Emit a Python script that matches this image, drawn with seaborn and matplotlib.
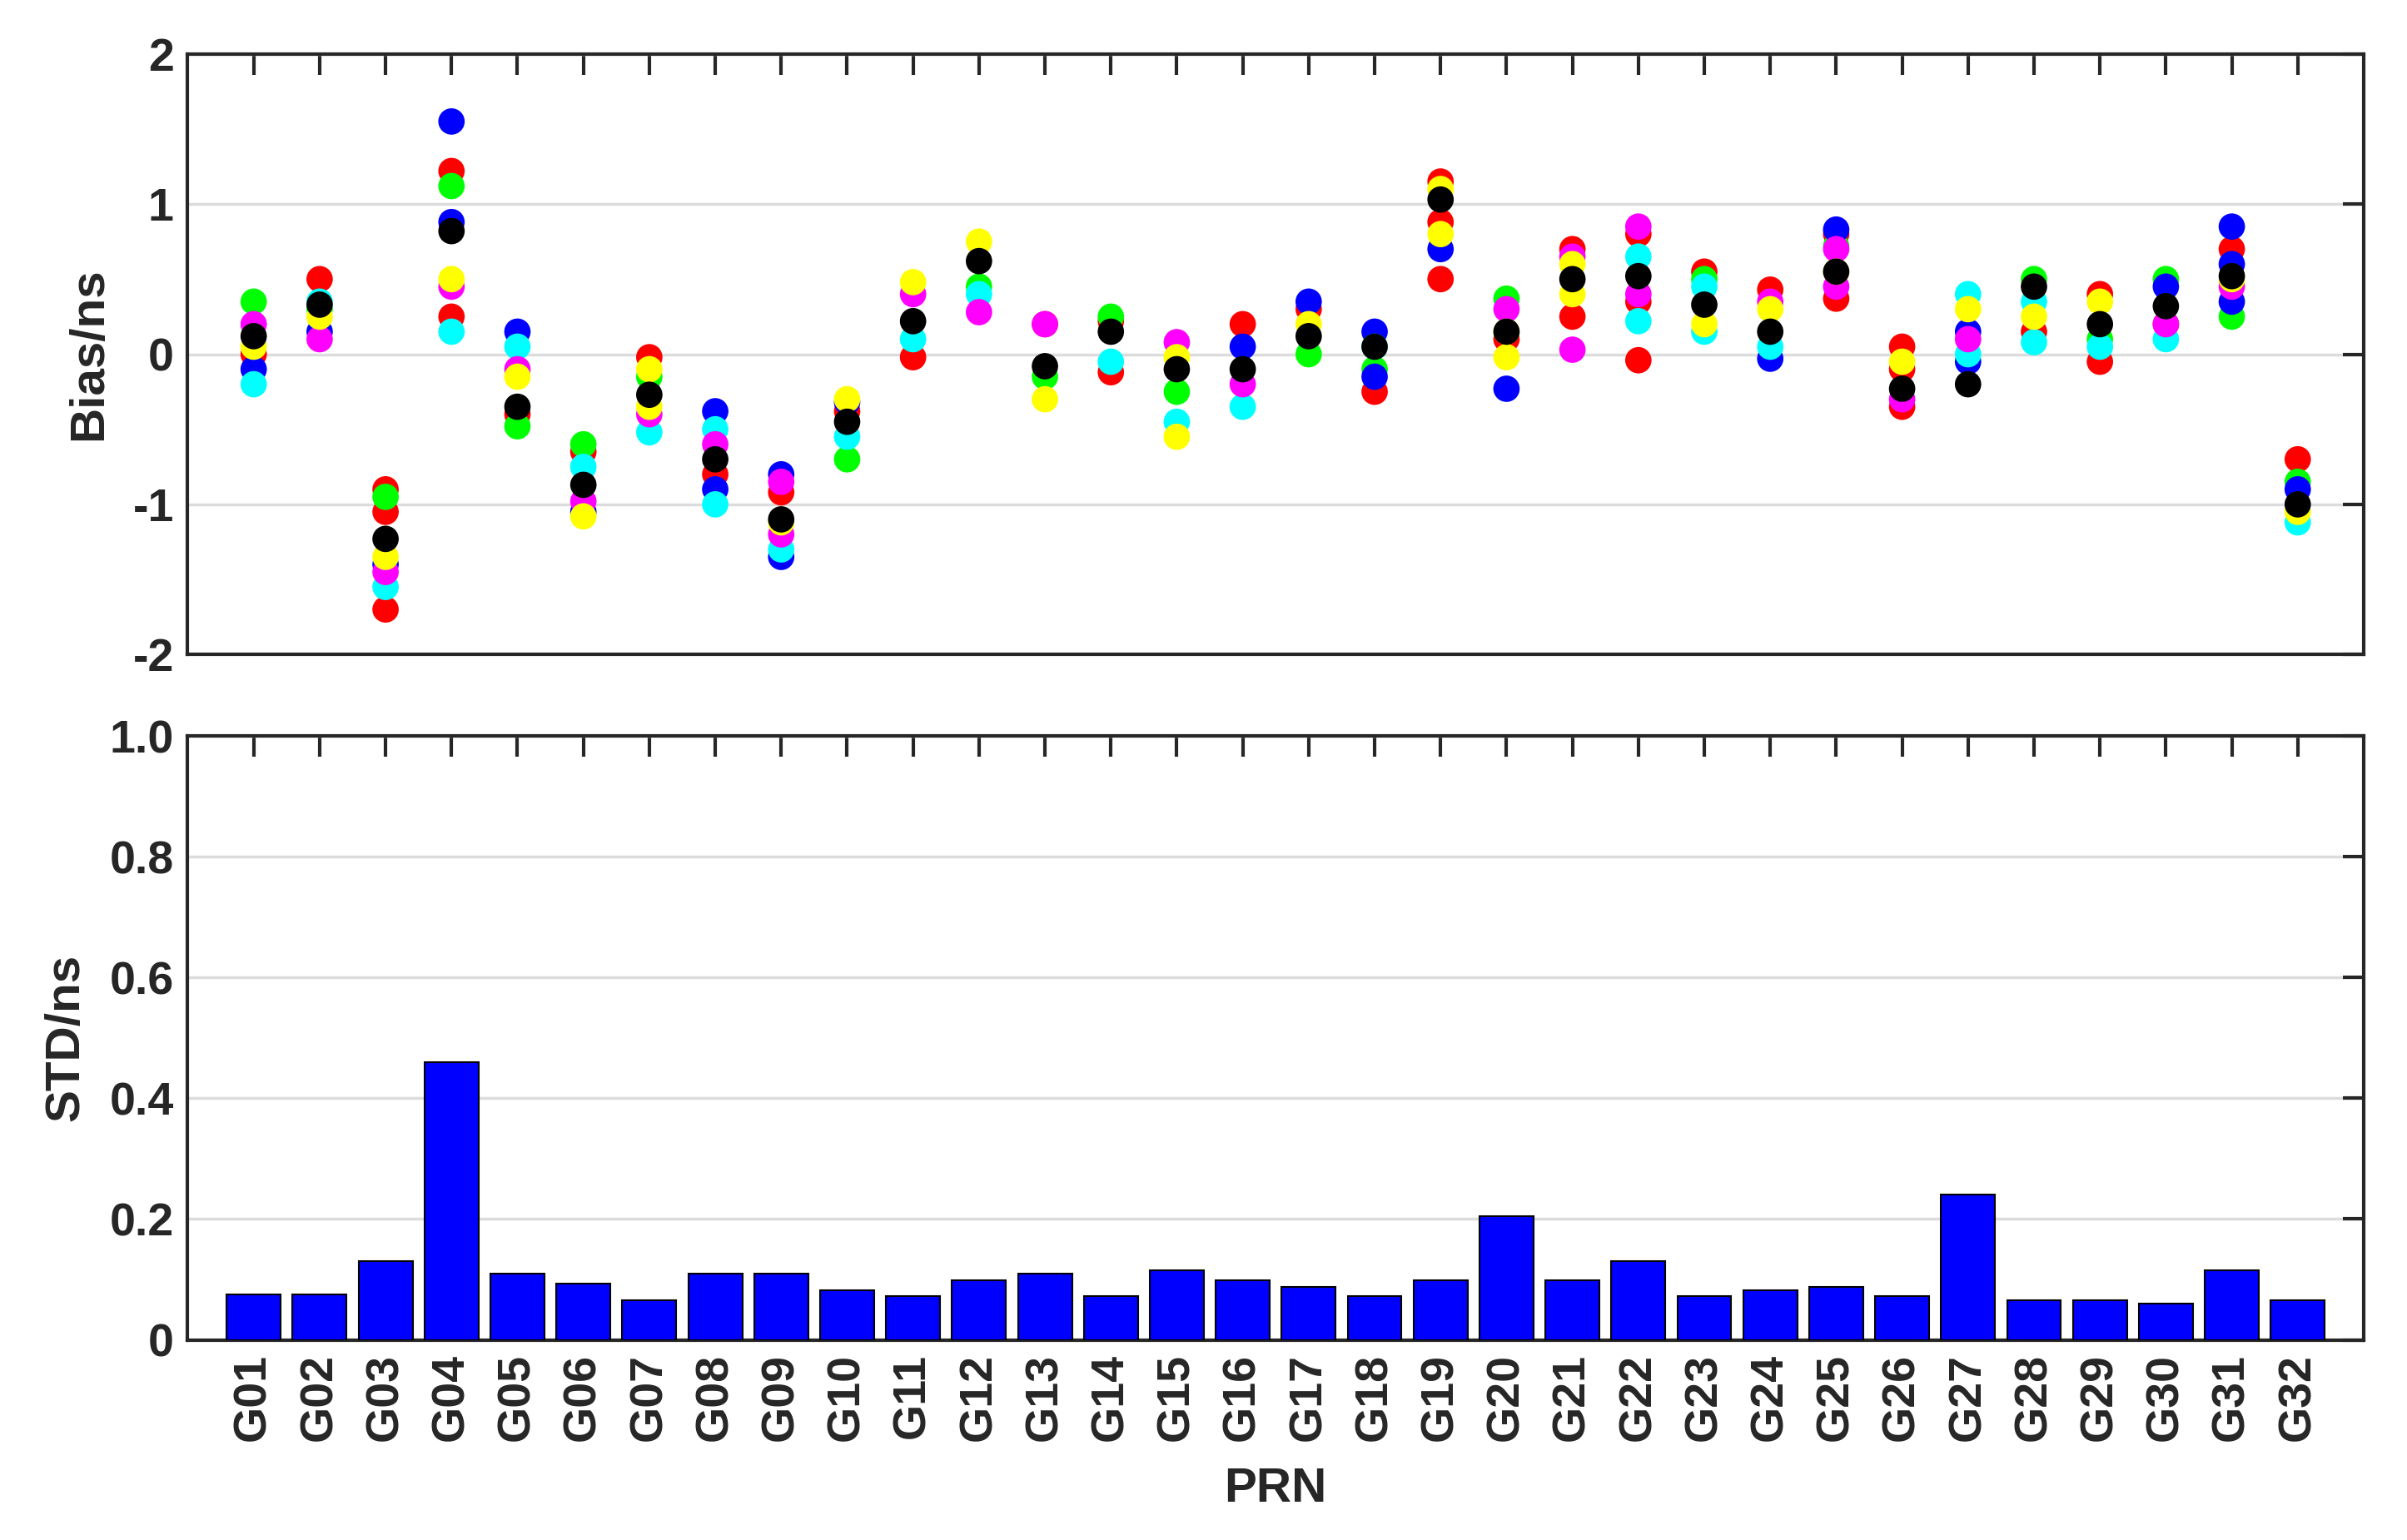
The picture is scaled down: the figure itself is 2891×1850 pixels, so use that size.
import numpy as np
import pandas as pd
import matplotlib
matplotlib.use("Agg")
import matplotlib.pyplot as plt
import seaborn as sns

prn = [f"G{i:02d}" for i in range(1, 33)]

# per-satellite bias estimates for each colour series (ns)
red = [[0.0], [0.5], [-0.9, -1.05, -1.7], [1.22, 0.25], [-0.4], [-0.65], [-0.02], [-0.8], [-0.92],
       [-0.38], [-0.02], [], [0.2], [0.22, -0.12], [], [0.2], [0.3], [-0.25], [1.15, 0.88, 0.5],
       [0.1], [0.7, 0.25], [0.8, 0.35, -0.04], [0.55], [0.43], [0.8, 0.37], [0.05, -0.1, -0.35],
       [], [0.15], [0.4, -0.05], [0.2], [0.7], [-0.7]]
green = [[0.35], [0.3], [-0.95], [1.12], [-0.48], [-0.6], [-0.15], [], [], [-0.7], [], [0.45],
         [-0.15], [0.25], [-0.25], [], [0.0], [-0.1], [], [0.37], [], [], [0.5], [], [0.72], [],
         [], [0.5], [0.1], [0.5], [0.25], [-0.85]]
blue = [[-0.1], [0.15], [-1.4], [1.55, 0.88], [0.15], [-1.05], [], [-0.38, -0.9], [-0.8, -1.35],
        [-0.32], [], [], [], [], [], [0.05], [0.35], [0.15, -0.15], [0.7], [-0.23], [], [], [],
        [-0.03], [0.83], [], [0.15, -0.05], [], [], [0.45], [0.85, 0.6, 0.35], [-0.9]]
cyan = [[-0.2], [0.35], [-1.55], [0.15], [0.05], [-0.75], [-0.52], [-0.5, -1.0], [-1.3],
        [-0.55], [0.1], [0.4], [], [-0.05], [-0.45], [-0.35], [], [0.05], [], [], [], [0.65, 0.22],
        [0.45, 0.15], [0.05], [], [], [0.4, 0.0], [0.35, 0.08], [0.05], [0.1], [], [-1.12]]
magenta = [[0.2], [0.1], [-1.45], [0.45], [-0.1], [-0.98], [-0.4], [-0.6], [-0.85, -1.2], [],
           [0.4], [0.28], [0.2], [], [0.08], [-0.2], [], [], [], [0.3], [0.65, 0.03], [0.85, 0.4],
           [], [0.35], [0.7, 0.45], [-0.3], [0.1], [], [], [0.2], [0.45], []]
yellow = [[0.05], [0.25], [-1.35], [0.5], [-0.15], [-1.08], [-0.1, -0.35], [], [-1.12],
          [-0.3], [0.48], [0.75], [-0.3], [], [-0.02, -0.55], [], [0.2], [], [1.1, 0.8],
          [0.15, -0.02], [0.6, 0.4], [], [0.2], [0.3], [0.55], [-0.05], [0.3], [0.25], [0.35], [],
          [0.5], [-1.05]]
mean_bias = [0.12, 0.33, -1.23, 0.82, -0.35, -0.87, -0.27, -0.7, -1.1, -0.45, 0.22, 0.62,
             -0.08, 0.15, -0.1, -0.1, 0.12, 0.05, 1.03, 0.15, 0.5, 0.52, 0.33, 0.15, 0.55,
             -0.23, -0.2, 0.45, 0.2, 0.32, 0.52, -1.0]

std = [0.075, 0.075, 0.13, 0.46, 0.11, 0.093, 0.065, 0.11, 0.11, 0.082, 0.072, 0.098,
       0.11, 0.072, 0.115, 0.098, 0.088, 0.072, 0.098, 0.205, 0.098, 0.13, 0.072, 0.082,
       0.088, 0.072, 0.24, 0.065, 0.065, 0.06, 0.115, 0.065]

series = {"red": red, "lime": green, "blue": blue, "cyan": cyan,
          "magenta": magenta, "yellow": yellow}
rows = []
for col, data in series.items():
    for i, vals in enumerate(data):
        for v in vals:
            rows.append((i, v, col))
df = pd.DataFrame(rows, columns=["idx", "bias", "c"])

sns.set_style("white")
plt.rcParams["font.family"] = ["Liberation Sans", "DejaVu Sans"]
plt.rcParams["font.weight"] = "bold"
plt.rcParams["axes.labelweight"] = "bold"
plt.rcParams["axes.unicode_minus"] = False

fig = plt.figure(figsize=(28.91, 18.5), dpi=100)
ax1 = fig.add_axes([0.078, 0.575, 0.904, 0.39])
ax2 = fig.add_axes([0.078, 0.130, 0.904, 0.392])

for col in series.keys():
    sub = df[df.c == col]
    sns.scatterplot(data=sub, x="idx", y="bias", color=col, s=520, marker="o",
                    edgecolor="none", ax=ax1, zorder=3)
sns.scatterplot(x=np.arange(32), y=mean_bias, color="black", s=520, edgecolor="none",
                ax=ax1, zorder=4)

sns.barplot(x=prn, y=std, color="#0000ff", edgecolor="black", linewidth=1.5,
            width=0.82, saturation=1, ax=ax2, zorder=3)

for ax in (ax1, ax2):
    ax.set_xlim(-1, 32)
    ax.set_xticks(np.arange(32))
    ax.yaxis.grid(True, color="#dcdcdc", linewidth=2.5, zorder=0)
    ax.tick_params(direction="in", length=18, width=3, top=True, right=True,
                   labelsize=40, colors="#262626", pad=12)
    for sp in ax.spines.values():
        sp.set_linewidth(3)
        sp.set_color("#262626")

ax1.set_ylim(-2, 2)
ax1.set_yticks([-2, -1, 0, 1, 2])
ax1.set_xticklabels([])
ax1.set_xlabel("")
ax1.set_ylabel("Bias/ns", fontsize=42, fontweight="bold", labelpad=18)

ax2.set_ylim(0, 1)
ax2.set_yticks([0, 0.2, 0.4, 0.6, 0.8, 1.0])
ax2.set_yticklabels(["0", "0.2", "0.4", "0.6", "0.8", "1.0"])
ax2.set_xticklabels(prn, rotation=90)
ax2.set_ylabel("STD/ns", fontsize=42, fontweight="bold", labelpad=18)
ax2.set_xlabel("PRN", fontsize=42, fontweight="bold", labelpad=22)
for ax in (ax1, ax2):
    for lab in ax.get_xticklabels() + ax.get_yticklabels():
        lab.set_fontweight("bold")

fig.savefig("out.png", dpi=100, facecolor="white")
